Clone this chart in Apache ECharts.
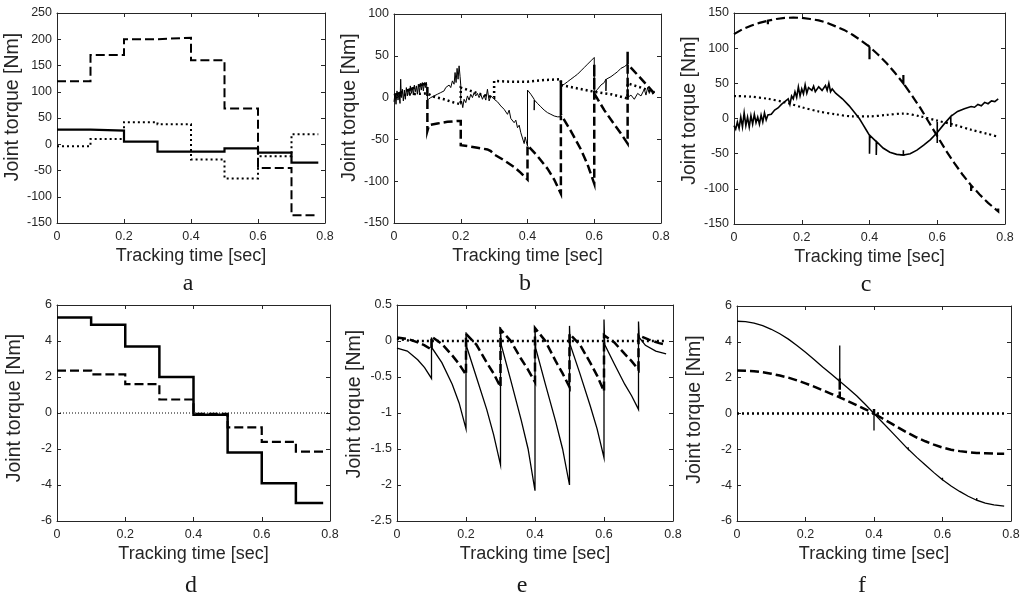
<!DOCTYPE html>
<html>
<head>
<meta charset="utf-8">
<script src="https://cdn.jsdelivr.net/npm/echarts@6/dist/echarts.min.js"></script>
<style>
html,body{margin:0;padding:0;background:#fff;}
#chart{width:1027px;height:597px;}
</style>
</head>
<body>
<div id="chart"></div>
<script>
// ---------- DATA ----------
const xTicks = [0, 0.2, 0.4, 0.6, 0.8];
const stepTimes = [0, 0.1, 0.2, 0.3, 0.4, 0.5, 0.6, 0.7, 0.78];

// Panel a (step values, last repeated to reach end)
const aSolid  = [28, 26, 5, -14, -14, -8, -16, -35, -35];
const aDashed = [120, 170, 200, 203, 160, 68, -45, -135, -135];
const aDotted = [-4, 10, 42, 38, -29, -65, -23, 19, 19];

// Panel b
const bSolid = [[0,-5],[0.003,5],[0.006,-8],[0.009,8],[0.012,-3],[0.015,6],[0.018,-7],[0.02,22],[0.022,0],[0.025,10],[0.028,-4],[0.031,9],[0.034,-2],[0.037,12],[0.04,2],[0.043,10],[0.046,3],[0.049,14],[0.052,5],[0.055,12],[0.058,3],[0.061,15],[0.064,7],[0.067,14],[0.07,4],[0.073,16],[0.076,6],[0.079,17],[0.082,9],[0.085,18],[0.088,8],[0.091,18],[0.094,12],[0.097,18],[0.1,5],
 [0.1,-3],[0.11,0],[0.12,2],[0.13,4],[0.14,6],[0.15,8],[0.155,12],[0.16,10],[0.165,15],[0.17,12],[0.175,20],[0.18,16],[0.183,30],[0.186,18],[0.189,35],[0.192,22],[0.195,38],[0.198,25],[0.2,15],[0.2,-8],
 [0.203,-5],[0.206,-12],[0.21,-2],[0.215,-6],[0.22,2],[0.225,-3],[0.23,4],[0.235,0],[0.24,6],[0.245,2],[0.25,5],[0.255,0],[0.26,4],[0.265,-2],[0.27,3],[0.275,-3],[0.28,10],[0.285,-4],[0.29,2],[0.3,-2],
 [0.31,-5],[0.32,-10],[0.33,-14],[0.34,-20],[0.345,-15],[0.35,-25],[0.36,-30],[0.365,-27],[0.37,-36],[0.375,-33],[0.38,-42],[0.385,-40],[0.39,-55],[0.393,-47],[0.396,-52],[0.4,-58],
 [0.4,9],[0.41,4],[0.42,-2],[0.42,-15],[0.421,-3],[0.43,-7],[0.44,-11],[0.45,-15],[0.46,-18],[0.47,-20],[0.48,-22],[0.49,-23],[0.5,-23],[0.5,14],
 [0.51,16],[0.52,19],[0.53,22],[0.54,25],[0.55,28],[0.56,32],[0.57,36],[0.58,40],[0.59,44],[0.6,48],[0.6,6],
 [0.61,10],[0.62,15],[0.63,18],[0.635,22],[0.635,8],[0.636,22],[0.65,25],[0.66,28],[0.67,31],[0.68,35],[0.69,37],[0.7,40],[0.7,0],
 [0.71,3],[0.72,-2],[0.73,5],[0.74,2],[0.75,10],[0.755,3],[0.76,12],[0.765,5],[0.77,10],[0.775,4],[0.78,8]];
const bDashed = [[0,3],[0.02,6],[0.05,10],[0.08,15],[0.1,17],[0.1,-40],[0.105,-33],[0.13,-31],[0.16,-29],[0.19,-28],[0.2,-28],[0.2,-57],[0.22,-58],[0.25,-60],[0.28,-62],[0.29,-64],[0.3,-68],[0.33,-75],[0.36,-83],[0.38,-90],[0.4,-98],[0.4,-57],[0.43,-70],[0.46,-85],[0.48,-98],[0.5,-115],[0.5,20],[0.5,-20],[0.53,-40],[0.56,-62],[0.58,-80],[0.6,-103],[0.6,40],[0.6,5],[0.63,-15],[0.66,-32],[0.68,-43],[0.7,-55],[0.7,55],[0.7,40],[0.73,27],[0.76,14],[0.78,5]];
const bDotted = [[0,2],[0.05,4],[0.1,5],[0.12,1],[0.15,-2],[0.18,-6],[0.2,-8],[0.2,12],[0.23,8],[0.26,4],[0.29,1],[0.3,0],[0.3,20],[0.35,19],[0.4,19],[0.45,21],[0.5,22],[0.5,15],[0.55,11],[0.6,7],[0.6,9],[0.65,4],[0.7,-1],[0.7,17],[0.74,12],[0.78,6]];

// Panel c
const cSolid = [[0,-10],[0.005,-15],[0.01,-5],[0.015,-14],[0.02,2],[0.025,-12],[0.03,8],[0.035,-10],[0.04,2],[0.045,-12],[0.05,4],[0.055,-8],[0.06,6],[0.065,-6],[0.07,2],[0.075,-8],[0.08,5],[0.085,-5],[0.09,8],[0.095,-2],[0.1,5],[0.11,6],[0.12,12],[0.13,15],[0.14,20],[0.15,24],[0.16,28],[0.165,20],[0.17,32],[0.175,28],[0.18,38],[0.185,30],[0.19,45],[0.195,32],[0.2,42],[0.205,35],[0.21,48],[0.215,36],[0.22,44],[0.23,40],[0.235,46],[0.24,38],[0.25,45],[0.26,40],[0.27,47],[0.275,40],[0.28,50],[0.285,38],[0.29,42],[0.3,36],[0.32,28],[0.34,18],[0.36,6],[0.37,0],[0.38,-8],[0.39,-16],[0.4,-24],[0.4,-50],[0.401,-24],[0.42,-33],[0.42,-52],[0.421,-33],[0.44,-42],[0.46,-48],[0.48,-51],[0.5,-52],[0.5,-45],[0.5,-52],[0.52,-50],[0.54,-45],[0.56,-38],[0.58,-30],[0.6,-20],[0.6,-35],[0.6,-5],[0.6,-20],[0.62,-8],[0.64,3],[0.64,-12],[0.64,3],[0.66,10],[0.68,14],[0.7,17],[0.71,16],[0.72,20],[0.73,18],[0.74,23],[0.75,21],[0.76,25],[0.77,24],[0.78,28]];
const cDashed = [[0,120],[0.025,127],[0.05,132],[0.075,136],[0.1,139],[0.1,134],[0.1,139],[0.125,141.5],[0.15,143],[0.175,143.5],[0.2,143],[0.225,141.5],[0.25,139.5],[0.275,136],[0.3,131],[0.325,126],[0.35,119],[0.375,111],[0.4,102],[0.4,84],[0.4,102],[0.425,91],[0.45,79],[0.475,65],[0.5,50],[0.5,62],[0.5,50],[0.525,33],[0.55,15],[0.575,-5],[0.6,-25],[0.625,-45],[0.65,-63],[0.675,-80],[0.7,-95],[0.7,-106],[0.7,-95],[0.725,-108],[0.75,-120],[0.78,-132],[0.78,-128]];
const cDotted = [[0,32],[0.05,31],[0.1,28],[0.15,23],[0.2,16],[0.25,10],[0.3,6],[0.35,3],[0.4,3],[0.45,5],[0.5,7],[0.55,3],[0.6,-3],[0.65,-9],[0.7,-16],[0.75,-22],[0.78,-26]];

// Panel d (step values)
const dSolid  = [5.3, 4.9, 3.7, 2.0, -0.1, -2.2, -3.9, -5.0, -5.0];
const dDashed = [2.35, 2.15, 1.6, 0.75, -0.05, -0.8, -1.6, -2.15, -2.15];
const dDotted = [[0,0],[0.8,0]];

// Panel e
const eSolid = [[0,-0.1],[0.03,-0.14],[0.06,-0.26],[0.08,-0.37],[0.1,-0.52],[0.1,0.05],[0.102,-0.1],[0.13,-0.3],[0.16,-0.6],[0.18,-0.86],[0.2,-1.22],[0.2,0.12],[0.202,-0.08],[0.23,-0.5],[0.26,-0.95],[0.28,-1.3],[0.3,-1.72],[0.3,0.19],[0.302,-0.05],[0.33,-0.55],[0.36,-1.1],[0.38,-1.5],[0.4,-2.08],[0.4,0.18],[0.402,-0.1],[0.43,-0.6],[0.46,-1.12],[0.48,-1.5],[0.5,-2.0],[0.5,0.21],[0.502,-0.05],[0.53,-0.45],[0.56,-0.9],[0.58,-1.22],[0.6,-1.62],[0.6,0.3],[0.602,-0.05],[0.63,-0.32],[0.66,-0.6],[0.68,-0.76],[0.7,-0.95],[0.7,0.27],[0.702,0.05],[0.72,-0.06],[0.75,-0.14],[0.78,-0.18]];
const eDashed = [[0,0.05],[0.03,0.03],[0.06,-0.02],[0.08,-0.06],[0.1,-0.12],[0.1,0.06],[0.13,-0.04],[0.16,-0.2],[0.18,-0.32],[0.2,-0.47],[0.2,0.1],[0.23,-0.05],[0.26,-0.3],[0.28,-0.45],[0.3,-0.64],[0.3,0.16],[0.33,0.0],[0.36,-0.25],[0.38,-0.4],[0.4,-0.57],[0.4,0.18],[0.43,0.0],[0.46,-0.28],[0.48,-0.45],[0.5,-0.64],[0.5,0.1],[0.53,-0.05],[0.56,-0.3],[0.58,-0.48],[0.6,-0.7],[0.6,0.08],[0.63,-0.02],[0.66,-0.18],[0.68,-0.28],[0.7,-0.4],[0.7,0.08],[0.73,0.02],[0.76,-0.03],[0.78,-0.05]];
const eDotted = [[0,0.03],[0.03,0.01],[0.06,0],[0.78,0]];

// Panel f
const fSolid = [[0,5.15],[0.025,5.13],[0.05,5.05],[0.075,4.9],[0.1,4.7],[0.125,4.45],[0.15,4.15],[0.175,3.8],[0.2,3.42],[0.225,3.02],[0.25,2.6],[0.275,2.2],[0.3,1.8],[0.3,3.8],[0.3,1.8],[0.325,1.4],[0.35,0.98],[0.375,0.5],[0.4,0.0],[0.4,-0.95],[0.4,0.0],[0.425,-0.5],[0.45,-1.0],[0.475,-1.5],[0.5,-2.0],[0.5,-1.88],[0.5,-2.0],[0.525,-2.45],[0.55,-2.88],[0.575,-3.3],[0.6,-3.7],[0.6,-3.58],[0.6,-3.7],[0.625,-4.05],[0.65,-4.35],[0.675,-4.62],[0.7,-4.84],[0.7,-4.72],[0.7,-4.84],[0.725,-5.0],[0.75,-5.1],[0.78,-5.17]];
const fDashed = [[0,2.4],[0.025,2.39],[0.05,2.36],[0.075,2.3],[0.1,2.22],[0.125,2.12],[0.15,2.0],[0.175,1.85],[0.2,1.68],[0.225,1.5],[0.25,1.3],[0.275,1.1],[0.3,0.9],[0.3,2.0],[0.3,0.9],[0.325,0.68],[0.35,0.46],[0.375,0.23],[0.4,0.0],[0.4,0.25],[0.4,0.0],[0.425,-0.28],[0.45,-0.55],[0.475,-0.83],[0.5,-1.1],[0.525,-1.34],[0.55,-1.55],[0.575,-1.74],[0.6,-1.9],[0.625,-2.02],[0.65,-2.1],[0.675,-2.16],[0.7,-2.2],[0.725,-2.22],[0.75,-2.24],[0.78,-2.24]];
const fDotted = [[0,0],[0.78,0]];

// y axis ranges
const yRanges = {
  a: [-150, 250, 50], b: [-150, 100, 50], c: [-150, 150, 50],
  d: [-6, 6, 2], e: [-2.5, 0.5, 0.5], f: [-6, 6, 2]
};
const panelLetters = ['a','b','c','d','e','f'];
const xTitle = 'Tracking time [sec]';
const yTitle = 'Joint torque [Nm]';

// ---------- LAYOUT ----------
const grids = [
  {left: 57, top: 13, width: 268, height: 210, shift: 22, label: [188, 284]},
  {left: 394, top: 14, width: 267, height: 209, shift: 22, label: [525, 284]},
  {left: 734, top: 13, width: 271, height: 211, shift: 16, label: [866, 285]},
  {left: 57, top: 305, width: 273, height: 216, shift: 10, label: [191, 586]},
  {left: 397, top: 305, width: 276, height: 216, shift: 18, label: [522, 586]},
  {left: 737, top: 306, width: 274, height: 215, shift: 8, label: [862, 586]}
];

const axisColor = '#262626';
const fontSans = 'Liberation Sans, Arial, sans-serif';

function stepPairs(vals) { return stepTimes.map((t, i) => [t, vals[i]]); }

const xAxes = [], yAxes = [], series = [], graphics = [];
grids.forEach((g, i) => {
  const key = panelLetters[i];
  const yr = yRanges[key];
  const common = {
    gridIndex: i,
    axisLine: {show: true, onZero: false, lineStyle: {color: axisColor, width: 1}},
    axisTick: {show: true, inside: true, length: 4, lineStyle: {color: axisColor, width: 1}},
    splitLine: {show: false}
  };
  xAxes.push(Object.assign({}, common, {
    type: 'value', position: 'bottom', min: 0, max: 0.8, interval: 0.2,
    axisLabel: {fontSize: 12.5, color: axisColor, fontFamily: fontSans, margin: 7},
    name: xTitle, nameLocation: 'middle', nameGap: 24,
    nameTextStyle: {fontSize: 18, color: axisColor, fontFamily: fontSans}
  }));
  xAxes.push(Object.assign({}, common, {
    type: 'value', position: 'top', min: 0, max: 0.8, interval: 0.2,
    axisLabel: {show: false}
  }));
  yAxes.push(Object.assign({}, common, {
    type: 'value', position: 'left', min: yr[0], max: yr[1], interval: yr[2],
    axisLabel: {fontSize: 12.5, color: axisColor, fontFamily: fontSans, margin: 5},
    name: yTitle, nameLocation: 'middle', nameGap: 32,
    nameTextStyle: {fontSize: 19.5, color: axisColor, fontFamily: fontSans, padding: [0, 0, 0, g.shift]}
  }));
  yAxes.push(Object.assign({}, common, {
    type: 'value', position: 'right', min: yr[0], max: yr[1], interval: yr[2],
    axisLabel: {show: false}
  }));
  graphics.push({
    type: 'text', x: g.label[0], y: g.label[1],
    style: {text: key, fontSize: 24, fontFamily: 'Liberation Serif, Times New Roman, serif', fill: '#1a1a1a', align: 'center', verticalAlign: 'middle'}
  });
});

function line(panel, data, width, type, step, smooth) {
  const s = {
    type: 'line', xAxisIndex: panel * 2, yAxisIndex: panel * 2, data: data,
    symbol: 'none', silent: true, animation: false,
    lineStyle: {color: '#000', width: width, type: type, cap: 'butt', join: 'miter'}
  };
  if (step) s.step = 'end';
  if (smooth) s.smooth = 0.3;
  series.push(s);
}
const DASH = [9, 4], DOT = [2, 3];
// a
line(0, stepPairs(aDotted), 2, DOT, true);
line(0, stepPairs(aDashed), 2, DASH, true);
line(0, stepPairs(aSolid), 2.2, 'solid', true);
// b
line(1, bDotted, 2.5, DOT);
line(1, bDashed, 2.5, DASH);
line(1, bSolid, 1, 'solid');
// c
line(2, cDotted, 2.2, DOT, false, true);
line(2, cDashed, 2.2, DASH);
line(2, cSolid, 1.6, 'solid');
// d
line(3, dDotted, 1, [1, 2]);
line(3, stepPairs(dDashed), 2.2, DASH, true);
line(3, stepPairs(dSolid), 2.5, 'solid', true);
// e
line(4, eDotted, 2.5, DOT);
line(4, eDashed, 2.5, DASH);
line(4, eSolid, 1.3, 'solid');
// f
line(5, fDotted, 2.5, DOT);
line(5, fDashed, 2.5, DASH);
line(5, fSolid, 1.3, 'solid');

const chart = echarts.init(document.getElementById('chart'), null, {renderer: 'canvas'});
chart.setOption({
  backgroundColor: '#fff',
  animation: false,
  grid: grids.map(g => ({left: g.left, top: g.top, width: g.width, height: g.height, containLabel: false})),
  xAxis: xAxes,
  yAxis: yAxes,
  series: series,
  graphic: graphics
});
</script>
</body>
</html>
